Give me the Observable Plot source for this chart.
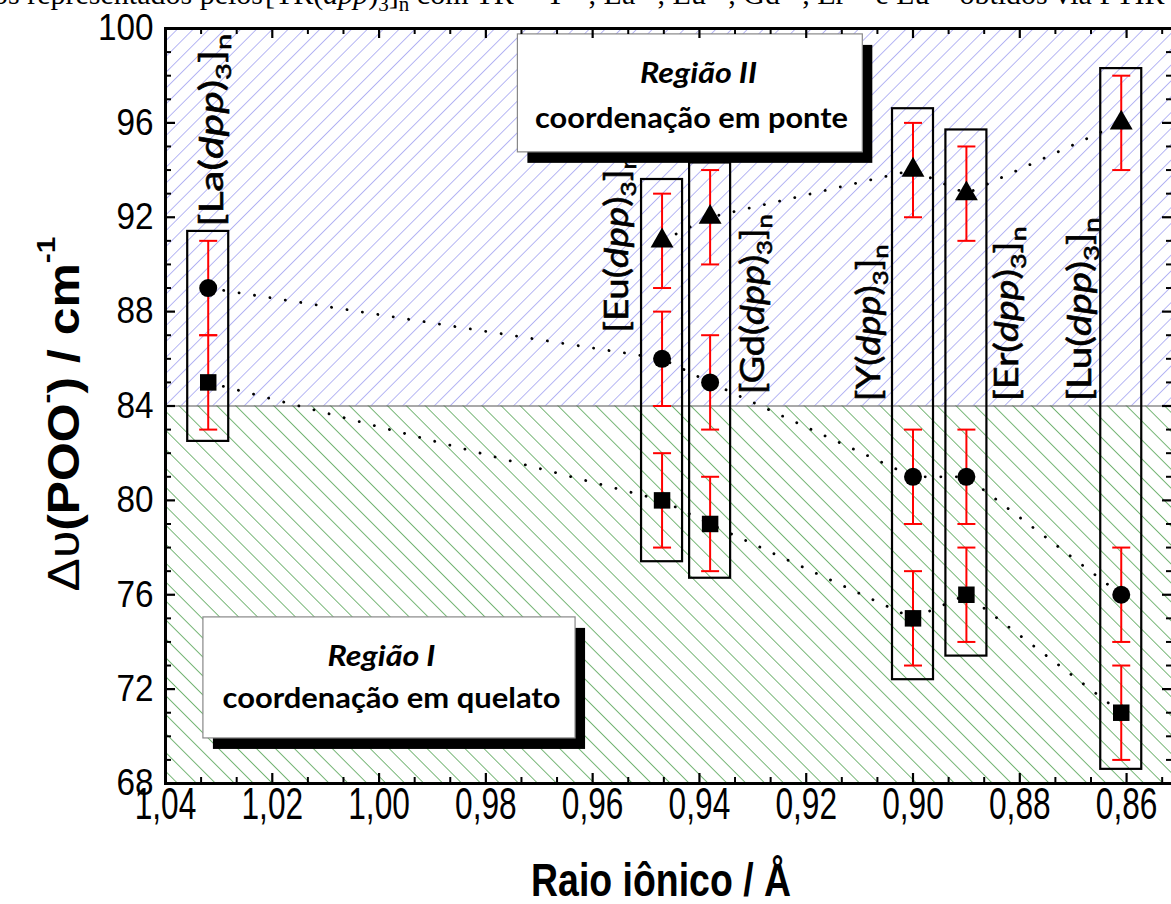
<!DOCTYPE html>
<html lang="pt"><head><meta charset="utf-8">
<script src="https://cdn.jsdelivr.net/npm/d3@7"></script>
<script src="https://cdn.jsdelivr.net/npm/@observablehq/plot@0.6"></script>
<style>
html,body{margin:0;padding:0;background:#fff;width:1171px;height:904px;overflow:hidden;position:relative}
#chart{position:absolute;left:0;top:0}
#chart svg{max-width:none!important;overflow:hidden}
.cap{position:absolute;top:-21px;font-family:"Liberation Serif","Times New Roman",serif;font-size:30px;line-height:30px;white-space:nowrap;color:#000;z-index:2}
.cap sub,.cap sup{line-height:0;font-size:0.7em}
#capL{right:908px}
#capR{left:265px}
</style></head><body>
<div id="chart"></div>
<div class="cap" id="capL">complexos representados pelos</div>
<div class="cap" id="capR">[TR(<i>dpp</i>)<sub>3</sub>]<sub>n</sub> com TR = Y<sup>3+</sup>, La<sup>3+</sup>, Eu<sup>3+</sup>, Gd<sup>3+</sup>, Er<sup>3+</sup> e Lu<sup>3+</sup> obtidos via FTIR</div>
<script>
// ---------------- data ----------------
const compounds = ["La", "Eu", "Gd", "Y", "Er", "Lu"];
const ionicRadius = [1.032, 0.947, 0.938, 0.900, 0.890, 0.861];
const squareValues = [85, 80, 79, 75, 76, 71];
const circleValues = [89, 86, 85, 81, 81, 76];
const triangleValues = [null, 91, 92, 94, 93, 96];
const errorValues = [2, 2, 2, 2, 2, 2];
const boxTop = [91.4, 93.6, 94.3, 96.6, 95.7, 98.3];
const boxBottom = [82.5, 77.4, 76.7, 72.4, 73.4, 68.6];

const regionNames = ["Região I", "Região II"];
const regionSubtitles = ["coordenação em quelato", "coordenação em ponte"];
const regionLow = [68, 84];
const regionHigh = [84, 100];

const xTicks = [1.04, 1.02, 1.00, 0.98, 0.96, 0.94, 0.92, 0.90, 0.88, 0.86];
const xTickLabels = ["1,04", "1,02", "1,00", "0,98", "0,96", "0,94", "0,92", "0,90", "0,88", "0,86"];
const yTicks = [68, 72, 76, 80, 84, 88, 92, 96, 100];
const yTickLabels = ["68", "72", "76", "80", "84", "88", "92", "96", "100"];
const xTitle = "Raio iônico / Å";
const yTitle = "Δυ(POO) / cm";

// ---------------- layout (annotation anchors, data units) ----------------
const labelStart = [91.6, 87.1, 84.5, 84.2, 84.2, 84.2];
const labelShiftPx = [15, -34, 54, -33, 52, -30];
const labelLengthPx = [193, 178, 180, 157, 175, 184];
const noteX1 = [1.0329, 0.9740], noteX2 = [0.9632, 0.9094];
const noteY1 = [69.91, 94.75], noteY2 = [75.04, 99.75];
const noteTitleX = [0.99955, 0.94017], noteTitleY = [73.0, 97.71];
const noteSubX = [0.99767, 0.94149], noteSubY = [71.18, 95.80];
const noteSubWidth = [338, 313], noteTitleWidth = [108, 117];

// ---------------- geometry ----------------
const W = 1173, H = 904, mL = 165, mR = 1, mT = 28, mB = 121;
const xDomain = [1.04, 0.8514], yDomain = [68, 100];
const plotW = W - mL - mR, plotH = H - mT - mB;
const pxPerX = plotW / (xDomain[0] - xDomain[1]);

// ---------------- derived tables ----------------
const seriesDefs = [["square", squareValues], ["circle", circleValues], ["triangle", triangleValues]];
const points = [];
seriesDefs.forEach(([s, arr]) => compounds.forEach((c, i) => {
  if (arr[i] != null) points.push({compound: c, r: ionicRadius[i], series: s, v: arr[i], e: errorValues[i]});
}));
const caps = points.flatMap(d => [{r: d.r, y: d.v - d.e}, {r: d.r, y: d.v + d.e}]);
const boxes = compounds.map((c, i) => ({name: c, r: ionicRadius[i], top: boxTop[i], bottom: boxBottom[i], i}));
const regions = regionNames.map((n, i) => ({name: n, lo: regionLow[i], hi: regionHigh[i]}));
const notes = regionNames.map((n, i) => ({title: n, sub: regionSubtitles[i], x1: noteX1[i], x2: noteX2[i], y1: noteY1[i], y2: noteY2[i],
  tx: noteTitleX[i], ty: noteTitleY[i], sx: noteSubX[i], sy: noteSubY[i]}));
const xMinor = d3.range(0, 29).map(k => 1.04 - k * 0.02 / 3).filter((v, k) => k % 3 !== 0 && v >= xDomain[1]);
const yMinor = d3.range(68, 101).filter(v => v % 4 !== 0);
const boxHalf = 20.5 / pxPerX;

const hbar = {draw(ctx, size) { const w = Math.sqrt(size / Math.PI); ctx.moveTo(-w, 0); ctx.lineTo(w, 0); }};

const chart = Plot.plot({
  width: W, height: H, marginLeft: mL, marginRight: mR, marginTop: mT, marginBottom: mB,
  x: {domain: xDomain, axis: null},
  y: {domain: yDomain, axis: null},
  style: {fontFamily: "'Liberation Sans', Arial, sans-serif", background: "transparent", color: "black"},
  marks: [
    Plot.rect(regions.filter(d => d.lo === 84), {y1: "lo", y2: "hi", fill: "url(#hatchBlue)"}),
    Plot.rect(regions.filter(d => d.lo === 68), {y1: "lo", y2: "hi", fill: "url(#hatchGreen)"}),
    Plot.ruleY([84], {stroke: "#555", strokeWidth: 1.2}),
    Plot.line(points, {x: "r", y: "v", z: "series", stroke: "black", strokeWidth: 2.8, strokeDasharray: "0.1,15.5", strokeLinecap: "round"}),
    Plot.ruleX(points, {x: "r", y1: d => d.v - d.e, y2: d => d.v + d.e, stroke: "#ff0000", strokeWidth: 2}),
    Plot.dot(caps, {x: "r", y: "y", symbol: hbar, r: 9, stroke: "#ff0000", strokeWidth: 2}),
    Plot.dot(points.filter(d => d.series === "square"), {x: "r", y: "v", symbol: "square", r: 9.3, fill: "black"}),
    Plot.dot(points.filter(d => d.series === "circle"), {x: "r", y: "v", symbol: "circle", r: 9, fill: "black"}),
    Plot.dot(points.filter(d => d.series === "triangle"), {x: "r", y: "v", symbol: "triangle", r: 8.5, fill: "black"}),
    Plot.rect(boxes, {x1: d => d.r + boxHalf, x2: d => d.r - boxHalf, y1: "bottom", y2: "top", fill: "none", stroke: "black", strokeWidth: 2.2}),
    Plot.text(boxes, {x: d => d.r - labelShiftPx[d.i] / pxPerX, y: d => labelStart[d.i], text: "name", rotate: -90,
      textAnchor: "start", lineAnchor: "bottom", fontFamily: "Lato, 'Open Sans', sans-serif", fontSize: 32, fill: "black", className: "cmp"}),
    Plot.rect(notes, {x1: "x1", x2: "x2", y1: "y1", y2: "y2", fill: "black", dx: 10, dy: 11}),
    Plot.rect(notes, {x1: "x1", x2: "x2", y1: "y1", y2: "y2", fill: "white", stroke: "#888", strokeWidth: 1.2}),
    Plot.text(notes, {x: "tx", y: "ty", text: "title", lineAnchor: "bottom", fontFamily: "Lato, sans-serif", fontWeight: "bold", fontStyle: "italic", fontSize: 29, className: "ntitle"}),
    Plot.text(notes, {x: "sx", y: "sy", text: "sub", lineAnchor: "bottom", fontFamily: "Lato, sans-serif", fontWeight: "bold", fontSize: 29, className: "nsub"}),
    // ticks (inward)
    Plot.ruleX(xMinor, {insetTop: plotH - 6, stroke: "black", strokeWidth: 2}),
    Plot.ruleX(xTicks, {insetTop: plotH - 10, stroke: "black", strokeWidth: 2.2}),
    Plot.ruleX(xMinor, {insetBottom: plotH - 6, stroke: "black", strokeWidth: 2}),
    Plot.ruleX(xTicks, {insetBottom: plotH - 10, stroke: "black", strokeWidth: 2.2}),
    Plot.ruleY(yMinor, {insetRight: plotW - 6, stroke: "black", strokeWidth: 2}),
    Plot.ruleY(yTicks, {insetRight: plotW - 10, stroke: "black", strokeWidth: 2.2}),
    Plot.ruleY(yMinor, {insetLeft: plotW - 6, stroke: "black", strokeWidth: 2}),
    Plot.ruleY(yTicks, {insetLeft: plotW - 10, stroke: "black", strokeWidth: 2.2}),
    Plot.frame({stroke: "black", strokeWidth: 3}),
    // tick labels
    Plot.text(xTicks, {x: d => d, frameAnchor: "bottom", dy: 35, text: (d, i) => xTickLabels[i], fontSize: 44, className: "xtl"}),
    Plot.text(yTicks, {y: d => d, frameAnchor: "left", dx: -12, textAnchor: "end", text: (d, i) => yTickLabels[i], fontSize: 37, className: "ytl"}),
    // titles
    Plot.text([xTitle], {frameAnchor: "bottom", dx: -8, dy: 112, lineAnchor: "bottom", textAnchor: "middle", text: d => d, fontWeight: "bold", fontSize: 46, className: "xtitle"}),
    Plot.text([yTitle], {frameAnchor: "left", dx: -87, dy: 8, rotate: -90, lineAnchor: "bottom", textAnchor: "middle", text: d => d, fontWeight: "bold", fontSize: 44, className: "ytitle"})
  ]
});
document.getElementById("chart").append(chart);

// ---- hatch patterns ----
const NS = "http://www.w3.org/2000/svg";
const defs = document.createElementNS(NS, "defs");
defs.innerHTML = `
<pattern id="hatchBlue" patternUnits="userSpaceOnUse" width="11.2" height="11.2" patternTransform="rotate(45)">
  <line x1="0" y1="-2" x2="0" y2="14" stroke="#9090ee" stroke-width="1.3"/></pattern>
<pattern id="hatchGreen" patternUnits="userSpaceOnUse" width="13.4" height="13.4" patternTransform="rotate(-45)">
  <line x1="0" y1="-2" x2="0" y2="16" stroke="#2f8f2f" stroke-width="1.3"/></pattern>`;
chart.insertBefore(defs, chart.firstChild);

// ---- rich text helpers ----
function scaleText(el, sx, sy) {
  el.setAttribute("transform", (el.getAttribute("transform") || "") + ` scale(${sx},${sy})`);
}
function fitLength(el, target, sy = 1) {
  const len = el.getComputedTextLength();
  if (len > 0) scaleText(el, target / len, sy);
}
chart.querySelectorAll("g.cmp text").forEach((el, i) => {
  const m = el.textContent;
  el.innerHTML = `[${m}(<tspan font-style="italic">dpp</tspan>)<tspan font-size="0.68em" dy="0.35em">3</tspan><tspan dy="-0.24em">]</tspan><tspan font-size="0.68em" dy="0.35em">n</tspan>`;
  el.setAttribute("stroke", "black");
  el.setAttribute("stroke-width", "0.6");
  fitLength(el, labelLengthPx[i]);
});
chart.querySelectorAll("g.nsub text").forEach((el, i) => fitLength(el, noteSubWidth[i]));
chart.querySelectorAll("g.ntitle text").forEach((el, i) => fitLength(el, noteTitleWidth[i]));
chart.querySelectorAll("g.xtl text").forEach(el => scaleText(el, 0.72, 1));
chart.querySelectorAll("g.ytl text").forEach(el => scaleText(el, 0.9, 1));
chart.querySelectorAll("g.xtitle text").forEach(el => fitLength(el, 260));
chart.querySelectorAll("g.ytitle text").forEach(el => {
  el.innerHTML = `<tspan font-weight="normal">Δυ</tspan>(POO<tspan font-size="0.6em" dy="-0.9em">-</tspan><tspan dy="0.54em">) / cm</tspan><tspan font-size="0.6em" dy="-0.9em">-1</tspan>`;
  fitLength(el, 355);
});
</script>
</body></html>
